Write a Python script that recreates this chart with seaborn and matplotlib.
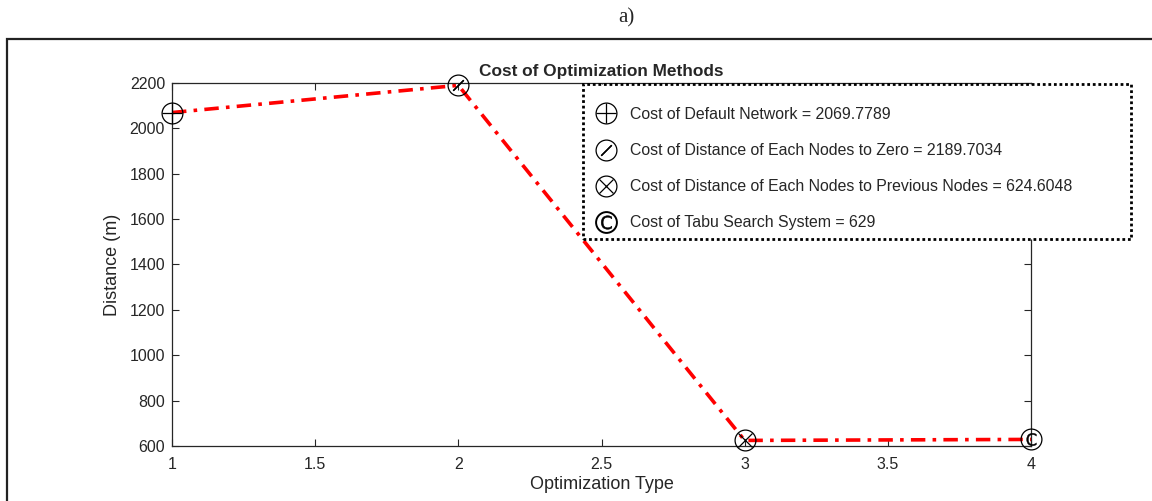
import matplotlib
matplotlib.use("Agg")
import matplotlib.pyplot as plt
import seaborn as sns
import pandas as pd
from matplotlib.lines import Line2D
from matplotlib.patches import Rectangle
from matplotlib.legend_handler import HandlerTuple

opt_type = [1, 2, 3, 4]
distance = [2069.7789, 2189.7034, 624.6048, 629]
labels = ["Cost of Default Network = 2069.7789",
          "Cost of Distance of Each Nodes to Zero = 2189.7034",
          "Cost of Distance of Each Nodes to Previous Nodes = 624.6048",
          "Cost of Tabu Search System = 629"]
xticks = [1, 1.5, 2, 2.5, 3, 3.5, 4]
yticks = [600, 800, 1000, 1200, 1400, 1600, 1800, 2000, 2200]

sns.set_style("white")
plt.rcParams['font.family'] = ['Liberation Sans', 'DejaVu Sans']

W, H = 1152, 501
fig = plt.figure(figsize=(W/100, H/100), dpi=100)
ax = fig.add_axes([172/W, 1-446/H, (1031-172)/W, (446-83)/H])

df = pd.DataFrame({"type": opt_type, "dist": distance})
sns.lineplot(data=df, x="type", y="dist", ax=ax, color="red", lw=2.6,
             linestyle=(0, (4, 2, 1, 2)), zorder=2)

ms = 15
circ = dict(marker="o", markersize=ms, mfc="none", mec="black", mew=0.9, ls="none", zorder=3, clip_on=False)
ov = dict(mec="black", mew=0.9, ls="none", zorder=3, clip_on=False)
# 1: circle plus
ax.plot(opt_type[0], distance[0], **circ)
ax.plot(opt_type[0], distance[0], marker="+", markersize=ms, **ov)
# 2: circle slash
ax.plot(opt_type[1], distance[1], **circ)
ax.plot(opt_type[1], distance[1], marker=(2, 2, -45), markersize=ms*0.72, **ov)
# 3: circle x
ax.plot(opt_type[2], distance[2], **circ)
ax.plot(opt_type[2], distance[2], marker="x", markersize=ms*0.7, **ov)
# 4: circle C
ax.plot(opt_type[3], distance[3], **circ)
ax.plot(opt_type[3], distance[3], marker="$\\mathrm{C}$", markersize=ms*0.6, mfc="black",
        mec="black", mew=0.3, ls="none", zorder=3, clip_on=False)

ax.set_xlim(1, 4)
ax.set_ylim(600, 2200)
ax.set_xticks(xticks)
ax.set_xticklabels([f"{t:g}" for t in xticks])
ax.set_yticks(yticks)
ax.tick_params(direction="in", length=5, width=0.8, labelsize=11.5, colors="#262626", pad=5,
               top=True, right=True, bottom=True, left=True, labeltop=False, labelright=False)
ax.tick_params(axis="x", pad=8)
for s in ax.spines.values():
    s.set_visible(True)
    s.set_color("#262626")
    s.set_linewidth(0.9)
ax.set_xlabel("Optimization Type", fontsize=13, color="#262626", labelpad=3)
ax.set_ylabel("Distance (m)", fontsize=13, color="#262626", labelpad=6)
ax.set_title("Cost of Optimization Methods", fontsize=12.4, fontweight="bold", pad=5)

# legend frame (dotted, white)
frame = Rectangle((583/W, 1-239/H), (1131-583)/W, (239-84)/H, transform=fig.transFigure,
                  facecolor="white", edgecolor="black", linestyle=(0, (1, 1)), lw=2,
                  clip_on=False, zorder=4)
ax.add_patch(frame)

def mk(**kw):
    return Line2D([], [], ls="none", **kw)
lc = dict(marker="o", markersize=ms, mfc="none", mec="black", mew=0.9)
h1 = (mk(**lc), mk(marker="+", markersize=ms, mec="black", mew=0.9))
h2 = (mk(**lc), mk(marker=(2, 2, -45), markersize=ms*0.72, mec="black", mew=0.9))
h3 = (mk(**lc), mk(marker="x", markersize=ms*0.7, mec="black", mew=0.9))
h4 = (mk(marker="o", markersize=ms, mfc="none", mec="black", mew=1.4),
      mk(marker="$\\mathrm{C}$", markersize=ms*0.65, mec="black", mfc="black", mew=0.4))
leg = ax.legend([h1, h2, h3, h4], labels, handler_map={tuple: HandlerTuple(ndivide=1)},
                loc="upper left", bbox_to_anchor=(593/W, 1-107/H),
                bbox_transform=fig.transFigure, fontsize=11.4, frameon=False,
                labelspacing=1.33, handlelength=1.6, handletextpad=0.75,
                borderpad=0, borderaxespad=0)
leg.set_zorder(5)

fig.text(626/W, 1-18/H, "a)", ha="center", va="center", fontsize=15, family="Liberation Serif")
fig.patches.append(Rectangle((7/W, -0.05), 1.2, 1-39/H+0.05, transform=fig.transFigure,
                             fill=False, edgecolor="#222222", lw=1.6, figure=fig))

fig.savefig("out.png", dpi=100)
